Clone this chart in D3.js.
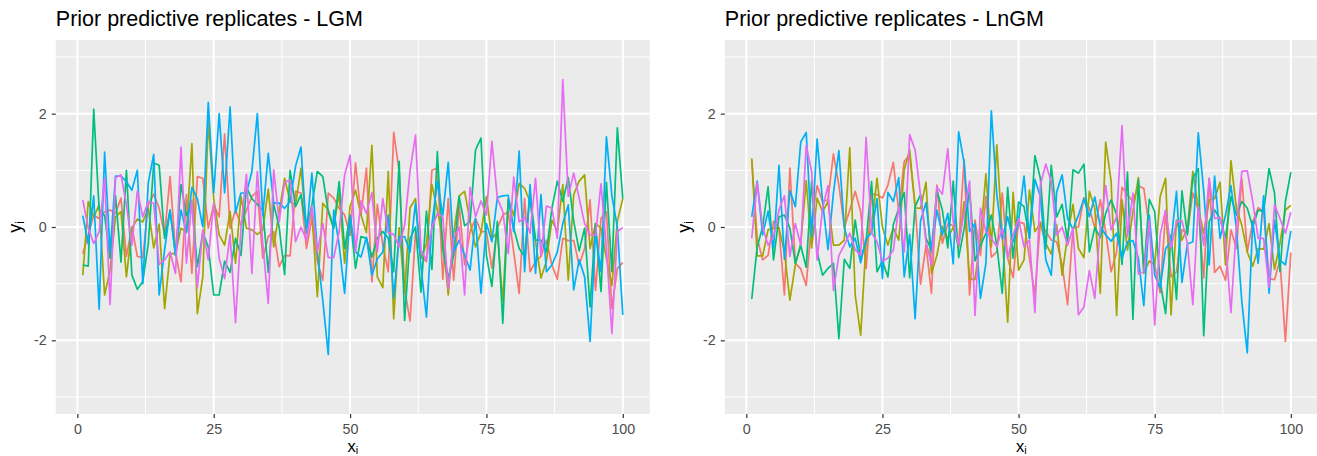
<!DOCTYPE html>
<html>
<head>
<meta charset="utf-8" />
<title>Prior predictive replicates</title>
<style>
html, body { margin: 0; padding: 0; background: #fff; }
svg { display: block; font-family: "Liberation Sans", Arial, sans-serif; }
</style>
</head>
<body>
<script src="https://d3js.org/d3.v7.min.js"></script>
<script>
// values, x = 1..100
var lgm_red = [-.47,-.14,.21,.15,.27,.3,.24,.51,-.52,0,-.52,-.54,.39,.58,.33,-.14,.89,-.44,-.97,.57,-.82,.89,.86,-.02,.39,.18,
  1.64,-.02,.3,.03,.3,.54,.63,-.55,-.17,-.08,-.7,-.5,-.51,.63,.6,-.38,.15,-.61,-.94,.6,.51,.33,.21,-.15,
  1.13,.21,1.04,-.97,.4,-.32,-.79,1.67,.98,-1.09,-1.66,-.08,-.52,-.61,1,1.04,-.92,.5,-.94,.39,-.67,-.08,.15,-.08,-.08,-.73,
  -.02,.21,.27,-.44,-1.17,.5,-.79,-.61,-.52,-.23,-.67,-.92,-.2,-.24,-.24,-.67,-.38,.48,-1.12,.15,.27,-1.44,-.73,-.63];
var lgm_olive = [-.85,.45,.18,.39,-1.2,-.76,.18,.27,-.88,-.02,.14,.09,.33,-.37,.05,-1.44,-.47,-.47,-.02,-.09,1.47,-1.53,-.88,1.87,.5,
  -.14,-.32,.27,-.64,.54,-.02,-.05,-.13,-.05,.67,-.35,.27,.86,.45,.39,1.04,-.02,.27,-1.23,.42,.3,0,.6,-.64,.36,.65,
  .21,-.1,1.44,-.88,-1.07,.98,-1.62,-.01,-1.15,.34,.5,-.55,-.3,.75,.3,-.2,-1.2,-.1,.55,.63,.1,-.35,-.1,.54,-.2,
  -.1,-1.32,.5,.2,.77,.68,.45,-.26,-.9,-.6,.12,-.08,.75,-.94,.57,.81,.92,-.38,.06,-.02,-.55,-1.03,.1,.5];
var lgm_green = [-.67,-.69,2.08,.3,.2,-.55,.55,-.62,1,-.85,-1.1,-.96,-.3,1.13,1.09,-.2,.3,-.5,.75,.2,.4,-.7,-.1,-.35,-1.2,-1.2,-.6,-.8,-.2,-.5,.7,.5,.4,.3,-.8,.4,0,
  -.84,1,.36,.57,-.03,.39,.98,.89,.27,-.03,.8,-.38,.2,-.73,
  -.17,-.2,-.53,-.2,-.08,-.2,-.79,
  1.16,-1.65,-.2,0,-1.15,.28,-.75,1.33,-.4,-.9,-.5,.54,.02,.1,1.36,1.57,-.5,-1.05,
  .1,-1.7,.48,-.02,-.38,-.52,.6,-.23,-.23,-.44,.33,.81,.45,.87,.1,-.42,-.02,-1.41,.06,-1.14,.79,-.79,1.75,.5];
var lgm_blue = [.2,-.3,.55,-1.45,1.32,-.45,.9,.9,.8,.65,1,-1,.78,1.28,-1.2,-.4,.3,-.5,.3,-.1,.7,.5,0,2.2,.6,2,.6,2.12,.25,.6,.6,.98,2,
  .2,1.3,.42,.42,.33,.45,1.07,1.41,-.11,.95,-.44,-1.3,-2.25,.3,-.32,-1.17,
  .21,-.44,-.53,-.18,-.85,-.56,-.44,.21,-1.25,-.17,-.17,-.44,.42,-.7,-1.59,.04,.8,.21,1.14,-.44,-.23,-.5,-.76,.15,-1.17,.06,
  -.26,.52,.55,.56,-.08,1.34,-.79,.75,-.82,.57,-.79,-.67,-.44,.06,.39,-1.11,-.58,-.88,-2.02,-.08,-.79,1.59,.55,0,-1.55];
var lgm_pink = [.48,-.02,-.29,-.08,.86,-1.37,.87,.92,.39,-.32,.63,.18,.45,.42,-.66,-.58,-.44,-.82,1.41,-.64,.48,-1.07,-.05,-.58,.42,-.55,
  -.91,-.14,-1.69,-.02,.93,-.82,.98,-.3,-1.35,1.01,.09,.79,.83,-.26,0,-.23,.36,-.44,.06,-.54,-.54,-.08,.92,1.27,
  -.44,.46,.24,.61,-.44,.5,-.1,-.13,-.35,.03,1,1.62,-.41,-.58,-.02,.24,.18,-1.09,-.2,0,-1.2,.7,.18,.46,.21,
  1.51,.51,.27,-.47,.88,.09,.17,-.11,.86,-.5,.37,.33,-.2,2.6,.54,.95,.51,.06,-.14,-.15,.76,-.38,-1.88,-.08,-.01];

var lngm_red = [1.19,-.2,-.58,-.5,.1,-.02,-1.2,1.04,-.64,-.74,-1.03,.1,.73,.45,.48,1.29,.74,0,.3,.63,.27,-.73,.58,.57,.51,.74,
  1.14,.27,1.16,1.27,.39,-1.01,-.32,-1.17,.74,-.29,.06,.02,-.32,1.19,-1.2,.12,-.5,.54,-.53,-.44,.6,-.55,-.89,.09,.06,
  -.55,-1.2,.09,-.08,-.23,-.26,-.67,-1.37,-.02,0,.52,.33,-.02,.48,-.08,-.79,-.44,.7,.57,.45,.73,.68,0,-.67,-1.16,
  .27,-.88,-.79,-.05,-.11,.6,.3,-.9,.86,-.8,-.69,-.94,-.05,-.38,.86,-.44,.09,.34,.27,-.91,-.93,-.58,-2.02,-.45];
var lngm_olive = [1.21,-.51,-.51,-.05,-.02,-.02,-.44,-1.29,-.67,-.29,.82,-.37,.51,.27,.45,-.32,-.32,-.23,1.4,-1.2,-1.91,-.26,-.02,.86,0,-.32,
  -.02,-.23,1.01,1.36,.34,.33,.79,-.82,-.5,.01,-.2,0,-.35,.45,-.91,-.93,-.2,.94,-.35,1.45,-.14,-1.68,.61,-.76,-.58,
  .65,-.08,.06,-.29,-.48,.04,-.85,-.14,.4,-.38,-.54,.63,.33,-1.17,1.5,.8,-1.56,.48,-.41,.27,.87,-.82,-.6,-.67,.54,
  .86,-1.55,.12,-.23,-.02,.98,.33,-.11,.48,.5,.79,-.67,1.17,.33,.03,-.44,-.69,-.38,-.39,.06,-.75,-.29,.3,.38];
var lngm_green = [-1.27,-.35,0,.71,-.58,.18,.21,-.02,-.64,-.33,-.71,.8,-.44,-.85,-.73,-.64,-1.97,-.57,-.73,.12,-.55,-.26,.8,-.79,-.6,-.88,
  .04,.33,.61,-.9,.36,.57,-.2,-.4,.64,.3,-.37,.81,-.54,-.03,.65,-.6,-.33,-.11,.21,-.32,-1.17,.7,-.55,.44,.36,
  -.2,1.26,.86,-.39,1.09,.18,.4,-.26,1.01,.95,1.11,-.44,-.01,-.19,.24,.48,.22,-.66,.97,-1.63,.83,-.79,.49,.27,-.97,
  -1.53,-.14,-1.28,.64,-.14,.86,1.03,-1.92,.09,.3,.15,-.2,.54,.21,.45,.33,0,.3,.27,1.03,.6,-.79,.45,.97];
var lngm_blue = [.18,.81,-.14,.28,-.37,1.09,-.57,.64,.36,1.5,1.67,-.17,1.55,.45,-.4,.6,1.35,-.02,-.35,-.2,-.63,-.2,-.11,.5,-.91,.61,
  .45,.87,-.88,-.13,-1.62,.11,.43,-.44,.3,-.14,.24,-.65,1.68,1.13,-.08,.06,-1.26,-.64,2.05,.57,-.2,.18,-.26,.1,
  .9,-.2,.84,.54,-.58,-.85,.62,.92,.15,-.04,.21,.5,.18,.53,.01,-.14,-.25,-.11,-.55,-.26,-.24,-.55,-1.39,.21,-.85,-1.07,
  -.38,-.26,.63,-.98,-.3,-.26,1.66,.63,-.67,.9,-.2,.21,.73,-.02,-1.32,-2.22,.1,-.64,.55,-1.17,.12,-.58,-.67,-.07];
var lngm_pink = [-.2,.78,0,-.32,-.17,.3,.55,-.52,.06,-.32,1.44,.98,-.58,.33,.73,-1.12,-.5,-.32,-.11,-.4,-.5,1.58,-.1,-.26,-.6,-.55,
  -.41,.36,-.44,1.63,1.36,.56,-.26,-.67,.71,.58,1.38,.09,-.32,.27,.81,-1.56,.33,-.08,-.2,-.35,-.02,-.55,-.14,.15,-.35,
  -.23,-1.51,.74,1.11,.8,-.14,0,-.32,-.02,-1.55,-1.41,-.77,-1.26,0,.73,-.05,.18,1.79,-.17,.6,-.83,-.79,.12,-1.73,
  -.14,.3,-.38,.09,.11,-.29,-1.37,.36,-.32,.86,.15,.17,-.26,-1.51,0,.98,.99,.45,-.2,-.2,-1.06,.39,.15,-.11,.26];

var colors = ["#F8766D", "#A3A500", "#00BF7D", "#00B0F6", "#E76BF3"];
var xTicks = [0, 25, 50, 75, 100];
var xMinor = [12.5, 37.5, 62.5, 87.5];
var yTicks = [-2, 0, 2];
var yMinor = [-3, -1, 1, 3];

var width = 1317,
    height = 456,
    top_ = 40,
    bottom = 414;

var svg = d3.select("body").append("svg")
  .attr("width", width)
  .attr("height", height);

function panel(title, left, right, series) {
  var x = d3.scaleLinear().domain([-3.95, 104.95]).range([left, right]);
  var y = d3.scaleLinear().domain([-3.3, 3.3]).range([bottom, top_]);
  var g = svg.append("g");

  g.append("rect")
    .attr("x", left).attr("y", top_)
    .attr("width", right - left).attr("height", bottom - top_)
    .attr("fill", "#EBEBEB");

  // grid
  g.selectAll(".ymin").data(yMinor).enter().append("line")
    .attr("x1", left).attr("x2", right)
    .attr("y1", y).attr("y2", y)
    .attr("stroke", "#fff").attr("stroke-width", 1);
  g.selectAll(".xmin").data(xMinor).enter().append("line")
    .attr("y1", top_).attr("y2", bottom)
    .attr("x1", x).attr("x2", x)
    .attr("stroke", "#fff").attr("stroke-width", 1);
  g.selectAll(".ymaj").data(yTicks).enter().append("line")
    .attr("x1", left).attr("x2", right)
    .attr("y1", y).attr("y2", y)
    .attr("stroke", "#fff").attr("stroke-width", 2);
  g.selectAll(".xmaj").data(xTicks).enter().append("line")
    .attr("y1", top_).attr("y2", bottom)
    .attr("x1", x).attr("x2", x)
    .attr("stroke", "#fff").attr("stroke-width", 2);

  // lines
  var line = d3.line()
    .x(function(d, i) { return x(i + 1); })
    .y(function(d) { return y(d); });

  g.selectAll(".rep").data(series).enter().append("path")
    .attr("class", "rep")
    .attr("d", line)
    .attr("fill", "none")
    .attr("stroke", function(d, i) { return colors[i]; })
    .attr("stroke-width", 1.7)
    .attr("stroke-linejoin", "round");

  // axes
  var xAxis = d3.axisBottom(x).tickValues(xTicks).tickSize(4).tickSizeOuter(0).tickPadding(6)
    .tickFormat(function(d) { return String(d); });
  var yAxis = d3.axisLeft(y).tickValues(yTicks).tickSize(4).tickSizeOuter(0).tickPadding(5)
    .tickFormat(function(d) { return String(d); });

  [g.append("g").attr("transform", "translate(0," + bottom + ")").call(xAxis),
   g.append("g").attr("transform", "translate(" + left + ",0)").call(yAxis)].forEach(function(a) {
    a.select(".domain").remove();
    a.selectAll(".tick line").attr("stroke", "#333333").attr("stroke-width", 1.2);
    a.selectAll("text").attr("fill", "#4D4D4D").style("font-size", "14.3px")
      .style("font-family", '"Liberation Sans", Arial, sans-serif');
  });

  g.append("text")
    .attr("x", left).attr("y", 26)
    .attr("fill", "#000")
    .style("font-size", "21.5px")
    .text(title);

  var xt = g.append("text")
    .attr("x", (left + right) / 2).attr("y", 452.3)
    .attr("text-anchor", "middle")
    .style("font-size", "16.5px");
  xt.append("tspan").text("x");
  xt.append("tspan").attr("dy", 1.2).style("font-size", "11px").text("i");

  var yt = g.append("text")
    .attr("transform", "translate(" + (left - 35) + "," + ((top_ + bottom) / 2) + ") rotate(-90)")
    .attr("text-anchor", "middle")
    .style("font-size", "18px");
  yt.append("tspan").text("y");
  yt.append("tspan").attr("dy", 3).style("font-size", "12px").text("i");
}

panel("Prior predictive replicates - LGM", 55.8, 649.8,
  [lgm_red, lgm_olive, lgm_green, lgm_blue, lgm_pink]);
panel("Prior predictive replicates - LnGM", 724.8, 1317.8,
  [lngm_red, lngm_olive, lngm_green, lngm_blue, lngm_pink]);
</script>
</body>
</html>
